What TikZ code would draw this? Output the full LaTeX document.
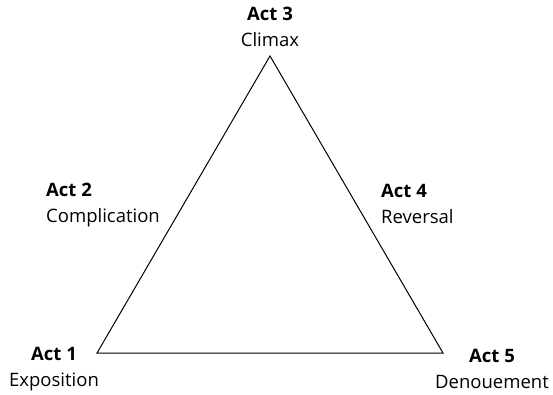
\documentclass[tikz,border=0pt]{standalone}
\usepackage{fontspec}
\setmainfont{Open Sans}
\begin{document}
\begin{tikzpicture}[x=1pt,y=-1pt,
  lbl/.style={inner sep=0pt, font=\fontsize{18.5}{26}\selectfont},
  edge/.style={draw=black, line width=1pt, line join=miter}]
\useasboundingbox (0,0) rectangle (553,395);
% vertices of the dramatic-structure triangle
\coordinate (v1) at (97,353);
\coordinate (v3) at (270,56);
\coordinate (v5) at (443,353);
\draw[edge] (v1) -- (v3) -- (v5) -- cycle;
% act labels
\node[lbl, align=center, anchor=center] (a3) at (270,27) {\textbf{Act 3}\\Climax};
\node[lbl, align=left, anchor=west] (a2) at (46,205.5) {\textbf{Act 2}\\Complication};
\node[lbl, align=left, anchor=west] (a4) at (381,203.5) {\textbf{Act 4}\\Reversal};
\node[lbl, align=center, anchor=center] (a1) at (54,369) {\textbf{Act 1}\\Exposition};
\node[lbl, align=center, anchor=center] (a5) at (492,369) {\textbf{Act 5}\\Denouement};
\end{tikzpicture}
\end{document}
